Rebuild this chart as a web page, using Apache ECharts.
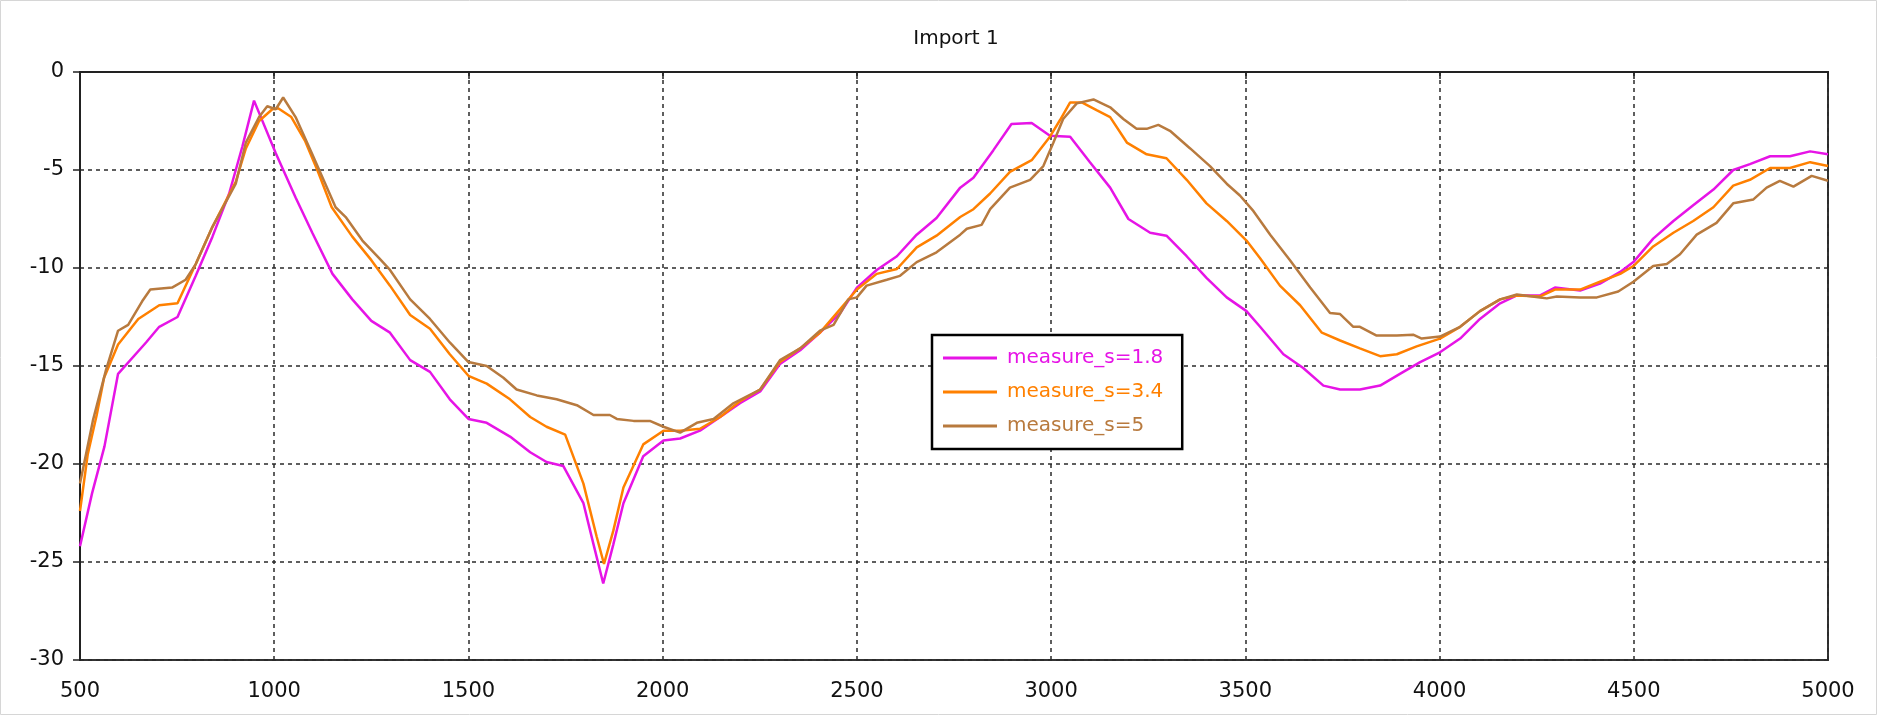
<!DOCTYPE html>
<html>
<head>
<meta charset="utf-8">
<script src="https://cdn.jsdelivr.net/npm/echarts@6/dist/echarts.min.js"></script>
<style>
html,body{margin:0;padding:0;background:#fff;}
#chart{width:1882px;height:716px;}
</style>
</head>
<body>
<div id="chart"></div>
<script>
const chartTitle = 'Import 1';
const seriesNames = ['measure_s=1.8', 'measure_s=3.4', 'measure_s=5'];
const seriesColors = ['#e614e6', '#ff8000', '#b87a3e'];
const xTicks = [500, 1000, 1500, 2000, 2500, 3000, 3500, 4000, 4500, 5000];
const yTicks = [0, -5, -10, -15, -20, -25, -30];

const x18 = [500,531,563,598,670,704,751,798,841,884,918,948,1004,1055,1098,1150,1201,1250,1298,1350,1401,1452,1500,1547,1607,1659,1701,1744,1796,1822,1847,1873,1899,1950,2002,2045,2096,2148,2199,2251,2302,2354,2405,2457,2500,2551,2603,2654,2705,2766,2800,2851,2898,2950,2997,3049,3100,3152,3199,3255,3297,3349,3400,3452,3503,3538,3598,3649,3701,3744,3795,3847,3898,3950,4001,4053,4104,4156,4199,4259,4297,4362,4413,4465,4499,4550,4602,4653,4705,4756,4799,4851,4902,4954,5000];
const y18 = [-24.2,-21.5,-19.1,-15.4,-13.8,-13.0,-12.5,-10.4,-8.4,-6.2,-3.8,-1.46,-4.15,-6.4,-8.2,-10.3,-11.6,-12.7,-13.3,-14.7,-15.3,-16.7,-17.7,-17.9,-18.6,-19.4,-19.9,-20.1,-22.0,-24.1,-26.1,-24.1,-22.0,-19.6,-18.8,-18.7,-18.3,-17.6,-16.9,-16.3,-14.9,-14.2,-13.3,-12.3,-11.0,-10.1,-9.4,-8.3,-7.45,-5.9,-5.4,-4.0,-2.65,-2.6,-3.25,-3.3,-4.6,-5.9,-7.5,-8.2,-8.35,-9.4,-10.5,-11.5,-12.2,-13.0,-14.4,-15.1,-16.0,-16.2,-16.2,-16.0,-15.4,-14.8,-14.3,-13.6,-12.6,-11.8,-11.4,-11.4,-11.0,-11.15,-10.8,-10.2,-9.7,-8.5,-7.6,-6.8,-6.0,-5.0,-4.7,-4.3,-4.3,-4.05,-4.2];

const x34 = [500,520,543,562,598,650,704,751,798,841,901,927,961,995,1010,1044,1079,1113,1148,1201,1250,1298,1350,1401,1452,1500,1547,1607,1659,1701,1749,1796,1830,1849,1873,1899,1950,2002,2045,2096,2148,2199,2251,2302,2354,2405,2457,2500,2551,2603,2654,2705,2766,2800,2843,2894,2950,2997,3023,3049,3079,3117,3152,3195,3246,3297,3349,3400,3452,3503,3538,3589,3641,3697,3744,3795,3847,3890,3941,4001,4053,4104,4156,4199,4259,4297,4362,4413,4465,4499,4550,4602,4653,4705,4756,4799,4851,4902,4954,5000];
const y34 = [-22.4,-19.5,-17.5,-15.6,-13.9,-12.6,-11.9,-11.8,-9.8,-7.9,-5.6,-3.9,-2.5,-1.9,-1.85,-2.3,-3.5,-5.1,-6.9,-8.4,-9.6,-10.9,-12.4,-13.1,-14.4,-15.5,-15.9,-16.7,-17.6,-18.1,-18.5,-21.0,-23.7,-25.1,-23.4,-21.2,-19.0,-18.3,-18.3,-18.2,-17.6,-16.8,-16.2,-14.8,-14.1,-13.3,-12.1,-11.1,-10.3,-10.05,-8.95,-8.35,-7.4,-7.0,-6.2,-5.1,-4.5,-3.3,-2.45,-1.55,-1.55,-1.95,-2.3,-3.6,-4.2,-4.4,-5.5,-6.7,-7.6,-8.6,-9.5,-10.9,-11.9,-13.3,-13.7,-14.1,-14.5,-14.4,-14.0,-13.6,-13.0,-12.2,-11.6,-11.4,-11.45,-11.1,-11.1,-10.7,-10.3,-9.9,-8.9,-8.2,-7.6,-6.9,-5.8,-5.5,-4.9,-4.9,-4.6,-4.8];

const x5 = [500,533,567,598,624,660,681,737,772,798,841,901,927,961,982,1004,1023,1055,1098,1158,1184,1227,1270,1298,1350,1401,1452,1500,1547,1590,1624,1676,1727,1779,1822,1864,1882,1925,1967,2002,2045,2088,2131,2182,2251,2302,2354,2405,2440,2478,2500,2525,2577,2611,2654,2705,2766,2783,2821,2843,2894,2946,2980,3006,3031,3066,3109,3152,3186,3220,3246,3276,3306,3358,3409,3452,3486,3521,3564,3615,3667,3718,3744,3778,3795,3838,3890,3932,3954,4001,4053,4104,4156,4199,4259,4276,4302,4362,4405,4460,4499,4550,4585,4619,4662,4713,4756,4808,4842,4876,4911,4958,5000];
const y5 = [-21.0,-17.8,-15.2,-13.2,-12.9,-11.7,-11.1,-11.0,-10.6,-9.8,-7.9,-5.7,-3.6,-2.3,-1.75,-1.9,-1.3,-2.3,-4.2,-6.9,-7.4,-8.6,-9.5,-10.1,-11.6,-12.6,-13.8,-14.8,-15.0,-15.6,-16.2,-16.5,-16.7,-17.0,-17.5,-17.5,-17.7,-17.8,-17.8,-18.1,-18.4,-17.9,-17.7,-16.9,-16.2,-14.7,-14.1,-13.2,-12.9,-11.6,-11.5,-10.9,-10.6,-10.4,-9.7,-9.2,-8.3,-8.0,-7.8,-7.0,-5.9,-5.5,-4.8,-3.6,-2.4,-1.6,-1.4,-1.8,-2.4,-2.9,-2.9,-2.7,-3.0,-3.9,-4.8,-5.7,-6.3,-7.1,-8.3,-9.6,-11.0,-12.3,-12.35,-13.0,-13.0,-13.45,-13.45,-13.4,-13.6,-13.5,-13.0,-12.2,-11.6,-11.35,-11.5,-11.55,-11.45,-11.5,-11.5,-11.2,-10.7,-9.9,-9.8,-9.3,-8.3,-7.7,-6.7,-6.5,-5.9,-5.55,-5.85,-5.3,-5.55];

const xsList = [x18, x34, x5];
const ysList = [y18, y34, y5];

const FONT = 'DejaVu Sans';
const chart = echarts.init(document.getElementById('chart'));

const series = seriesNames.map((name, i) => ({
  name: name,
  type: 'line',
  data: xsList[i].map((x, j) => [x, ysList[i][j]]),
  symbol: 'none',
  lineStyle: { color: seriesColors[i], width: 2.5 },
  itemStyle: { color: seriesColors[i] },
  emphasis: { disabled: true }
}));

chart.setOption({
  animation: false,
  backgroundColor: '#ffffff',
  title: {
    text: chartTitle,
    left: 951,
    top: 24,
    textAlign: 'center',
    textStyle: { fontFamily: FONT, fontSize: 20, fontWeight: 'normal', color: '#111' }
  },
  grid: {
    left: 80, right: 54, top: 72, bottom: 56,
    show: true, borderColor: '#333', borderWidth: 2, backgroundColor: 'transparent'
  },
  legend: {
    orient: 'vertical',
    left: 932,
    top: 335,
    icon: 'rect',
    itemWidth: 54,
    itemHeight: 3,
    itemGap: 12,
    padding: [12, 19, 12, 11],
    backgroundColor: '#fff',
    borderColor: '#000',
    borderWidth: 2.5,
    data: seriesNames.map((n, i) => ({ name: n, textStyle: { color: seriesColors[i] } })),
    textStyle: { fontFamily: FONT, fontSize: 20, lineHeight: 22, padding: [0, 0, 0, 5] }
  },
  xAxis: {
    type: 'value',
    min: xTicks[0],
    max: xTicks[xTicks.length - 1],
    interval: 500,
    axisLine: { show: true, lineStyle: { color: '#222', width: 2 } },
    axisTick: { show: true, length: 7, lineStyle: { color: '#222', width: 1.5 } },
    axisLabel: { fontFamily: FONT, fontSize: 21, color: '#111', margin: 21, formatter: v => String(v) },
    splitLine: { show: true, lineStyle: { color: '#2a2a2a', width: 1.5, type: [4, 4] } }
  },
  yAxis: {
    type: 'value',
    min: yTicks[yTicks.length - 1],
    max: yTicks[0],
    interval: 5,
    axisLine: { show: true, lineStyle: { color: '#222', width: 2 } },
    axisTick: { show: true, length: 7, lineStyle: { color: '#222', width: 1.5 } },
    axisLabel: { fontFamily: FONT, fontSize: 21, color: '#111', margin: 16, formatter: v => String(v) },
    splitLine: { show: true, lineStyle: { color: '#2a2a2a', width: 1.5, type: [4, 4] } }
  },
  graphic: [{
    type: 'rect',
    shape: { x: 0.5, y: 0.5, width: 1876, height: 714 },
    style: { fill: 'none', stroke: '#d6d6d6', lineWidth: 1 },
    silent: true, z: -1
  }],
  series: series
});
</script>
</body>
</html>
